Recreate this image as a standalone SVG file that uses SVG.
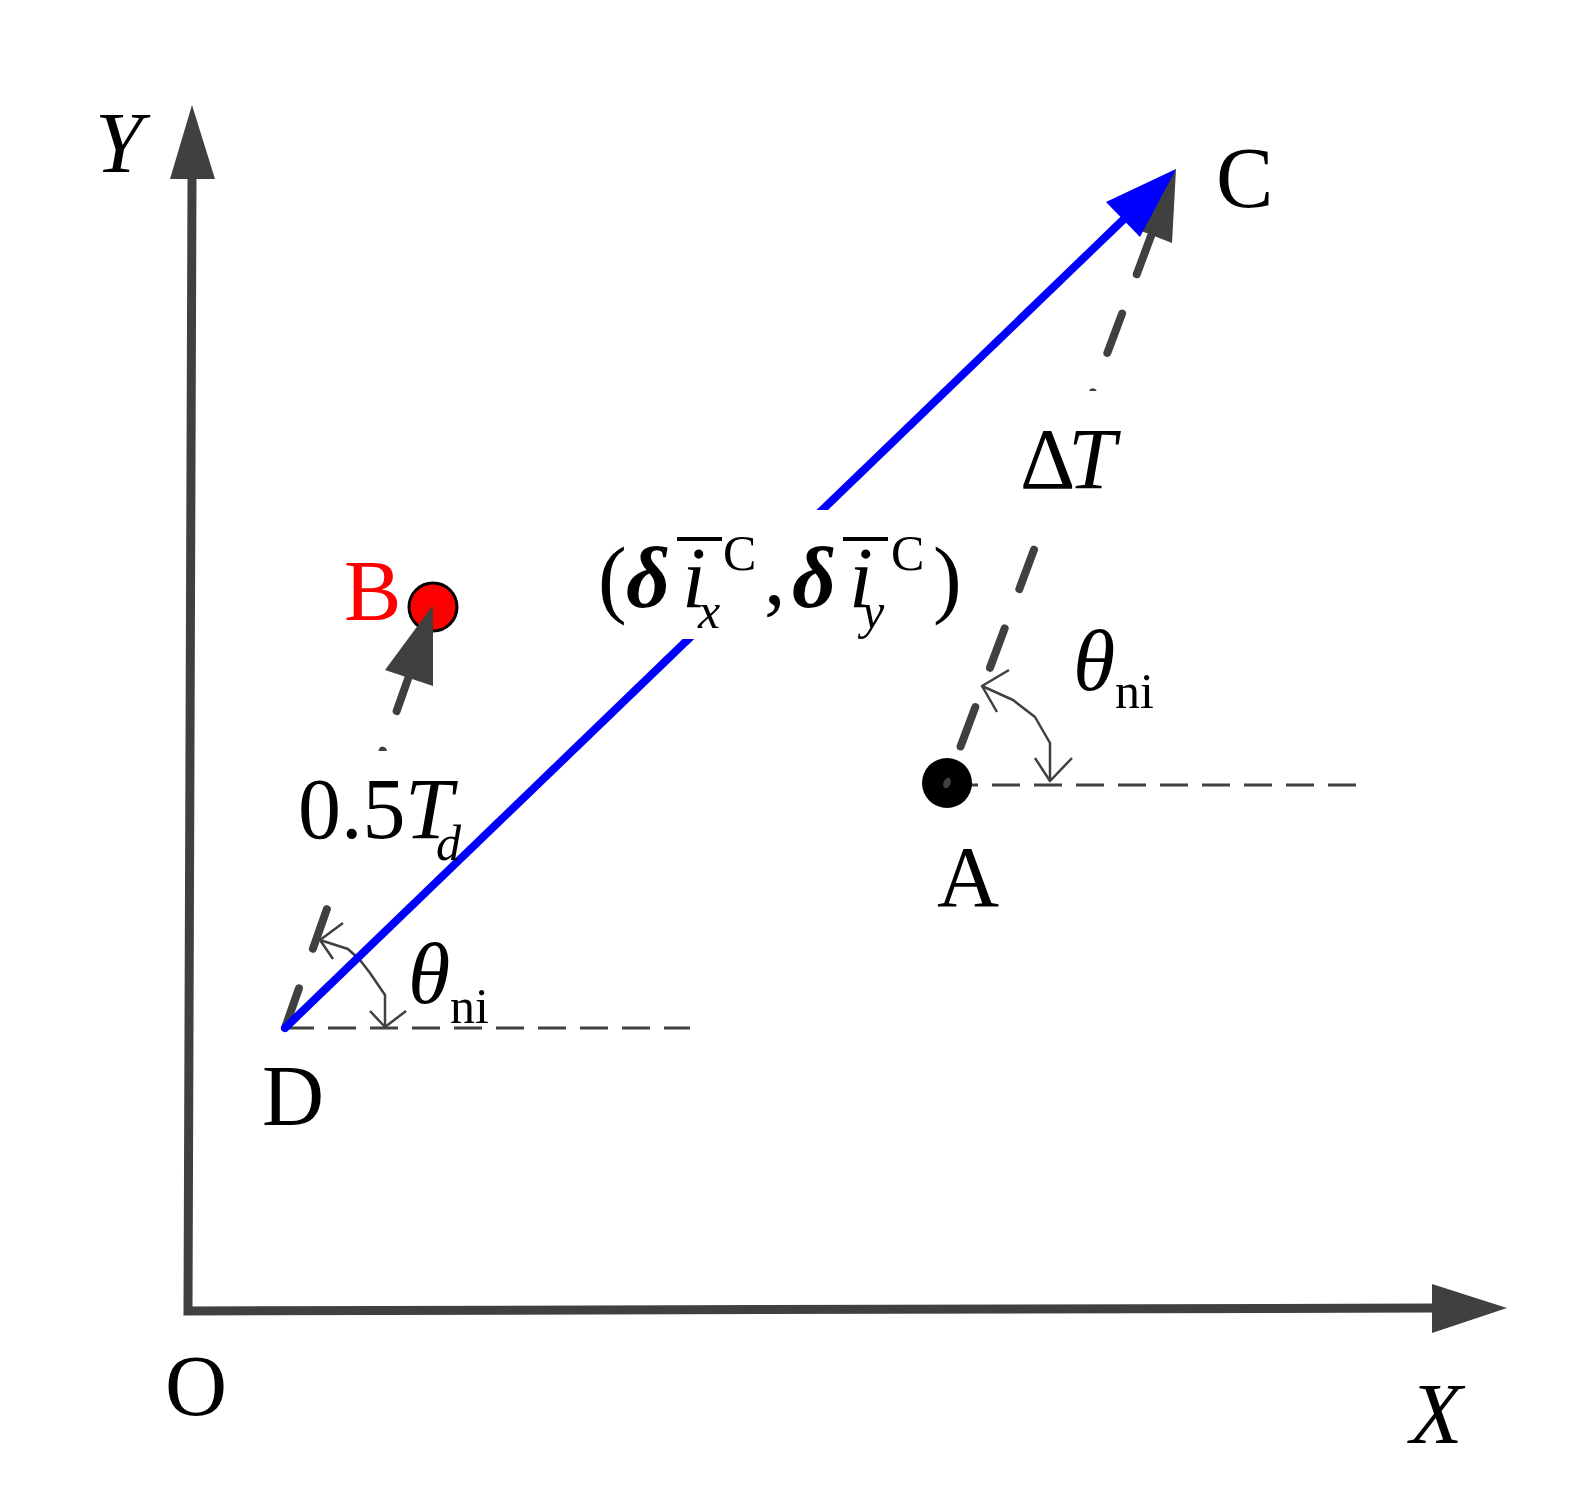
<svg xmlns="http://www.w3.org/2000/svg" width="1592" height="1494" viewBox="0 0 1592 1494">
<style>
.t{font-family:"Liberation Serif","Times New Roman",serif;font-size:86px;fill:#000}
.s{font-size:50px}
.i{font-style:italic}
.b{font-weight:bold}
.axis{fill:none;stroke:#404040;stroke-width:9;stroke-linejoin:miter}
.gd{fill:none;stroke:#404040;stroke-width:8;stroke-linecap:round;stroke-dasharray:42 42}
.hd{fill:none;stroke:#404040;stroke-width:3;stroke-dasharray:28 14}
.arc{fill:none;stroke:#404040;stroke-width:2.5;stroke-linejoin:round}
.gh{fill:#404040}
</style>
<rect width="1592" height="1494" fill="#fff"/>
<g id="axes">
  <polyline class="axis" points="192,178 188,1311 1434,1308"/>
  <polygon class="gh" points="192,105 170,179 215,179"/>
  <polygon class="gh" points="1507,1308 1432,1284 1432,1333"/>
</g>
<g id="connectors">
  <line class="hd" x1="950" y1="785" x2="1356" y2="785"/>
  <line class="hd" x1="286" y1="1028" x2="690" y2="1028"/>
  <path class="gd" d="M947,783 L1151,236" stroke-dashoffset="45"/>
  <polygon class="gh" points="1176,169 1131,227 1172,243"/>
  <path class="gd" d="M285,1028 L409,676"/>
  <g id="node-B"><circle cx="433" cy="607" r="24" fill="#ff0000" stroke="#000" stroke-width="3"/></g>
  <polygon class="gh" points="433,605 385,670 433,686"/>
  <polyline class="arc" points="320,940 348,949 360,960 370,973 385,995 385,1027"/>
  <polyline class="arc" points="343,923 320,940 333,959"/>
  <polyline class="arc" points="370,1011 385,1027 406,1011"/>
  <polyline class="arc" points="982,686 1013,700 1035,717 1050,743 1050,781"/>
  <polyline class="arc" points="1009,670 982,686 997,712"/>
  <polyline class="arc" points="1035,758 1050,781 1072,758"/>
  <rect x="1005" y="391" width="130" height="126" fill="#fff"/>
  <rect x="290" y="751" width="180" height="128" fill="#fff"/>
  <line x1="285" y1="1028" x2="1124" y2="219" stroke="#0000ff" stroke-width="8" stroke-linecap="round"/>
  <polygon fill="#0000ff" points="1176,169 1106,202 1140,237"/>
  <rect x="590" y="510" width="375" height="129" fill="#fff"/>
</g>
<g id="node-A">
  <circle cx="947" cy="783" r="25" fill="#000"/>
  <ellipse cx="947" cy="783" rx="3.5" ry="5.5" fill="#404040" transform="rotate(20 947 783)"/>
  <text class="t" x="937" y="906">A</text>
</g>
<g id="node-B-label"><text class="t" x="344" y="620" style="fill:#ff0000">B</text></g>
<g id="node-C"><text class="t" x="1216" y="207">C</text></g>
<g id="node-D"><text class="t" x="262" y="1125">D</text></g>
<g id="node-O"><text class="t" x="165" y="1415">O</text></g>
<g id="labels">
  <text class="t i" x="95" y="172">Y</text>
  <text class="t i" x="1410" y="1443">X</text>
  <text class="t" x="1020" y="488">Δ<tspan class="i" x="1068">T</tspan></text>
  <text class="t" x="298" y="838">0.5<tspan class="i" x="405">T</tspan><tspan class="i s" x="436" y="860">d</tspan></text>
  <text class="t i" x="408" y="1003">θ</text>
  <text class="t s" x="450" y="1023">ni</text>
  <text class="t i" x="1073" y="690">θ</text>
  <text class="t s" x="1115" y="708">ni</text>
  <g id="formula">
    <text class="t" x="598" y="607">(</text>
    <text class="t i b" x="626" y="607">δ</text>
    <text class="t i" x="682" y="607">i</text>
    <line x1="677" y1="539" x2="722" y2="539" stroke="#000" stroke-width="4"/>
    <text class="t i s" x="698" y="628">x</text>
    <text class="t s" x="723" y="570">C</text>
    <text class="t" x="764" y="604">,</text>
    <text class="t i b" x="792" y="607">δ</text>
    <text class="t i" x="849" y="607">i</text>
    <line x1="843" y1="539" x2="888" y2="539" stroke="#000" stroke-width="4"/>
    <text class="t i s" x="862" y="628">y</text>
    <text class="t s" x="891" y="570">C</text>
    <text class="t" x="933" y="607">)</text>
  </g>
</g>
</svg>
